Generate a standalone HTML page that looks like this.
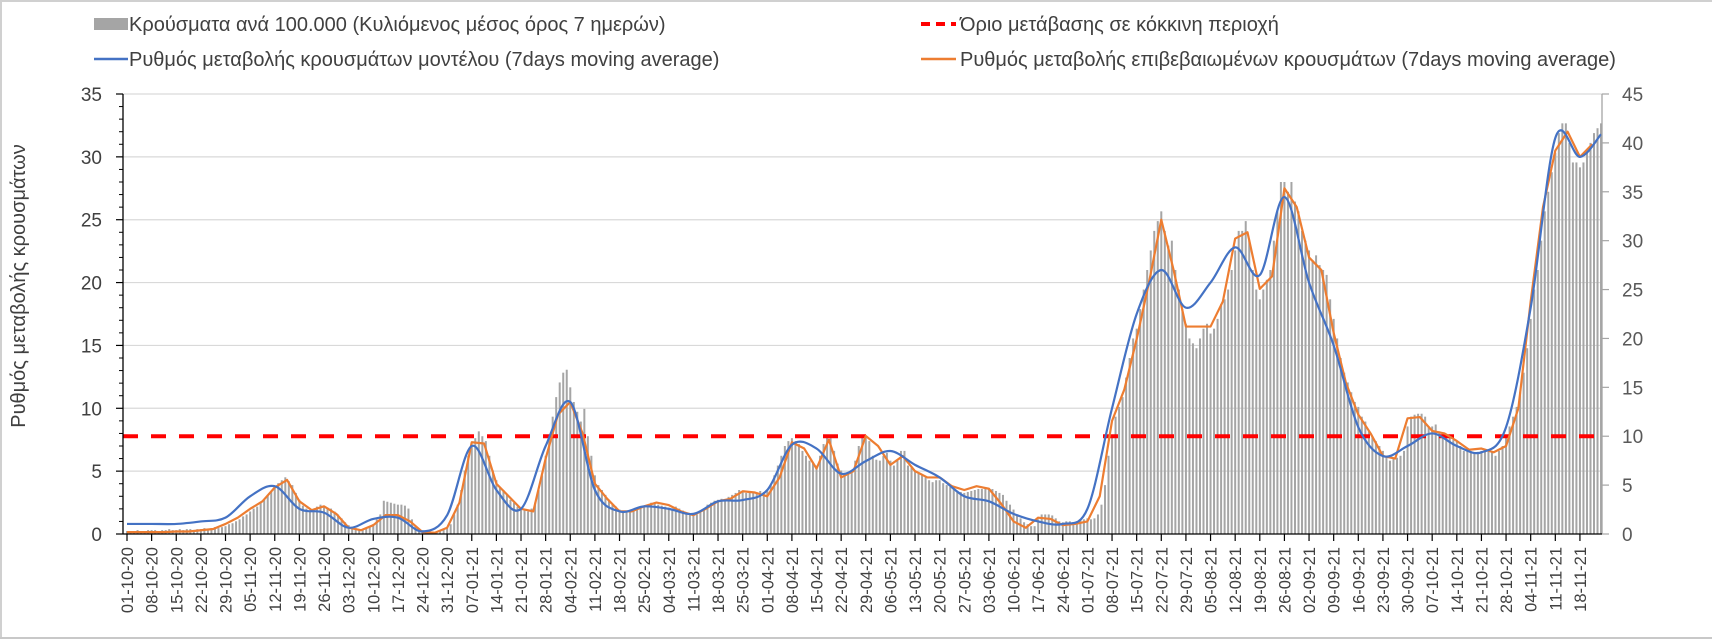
<!DOCTYPE html>
<html><head><meta charset="utf-8">
<style>
html,body{margin:0;padding:0;background:#fff;}
svg{display:block;font-family:"Liberation Sans",sans-serif;}
</style></head>
<body>
<svg id="chart" width="1712" height="641" viewBox="0 0 1712 641">
<rect x="0" y="0" width="1712" height="641" fill="#fff"/>
<line x1="0" y1="1" x2="1712" y2="1" stroke="#d0d0d0" stroke-width="2"/>
<line x1="1" y1="0" x2="1" y2="638" stroke="#d0d0d0" stroke-width="2"/>
<line x1="0" y1="638" x2="1712" y2="638" stroke="#c8c8c8" stroke-width="2"/>
<g id="grid"></g>
<g id="bars"></g>
<g id="lines"></g>
<g id="axes"></g>
<g id="legend">
  <g>
    <rect x="94" y="18" width="34" height="12" fill="#a5a5a5"/>
    <text x="129" y="31" font-size="20" fill="#404040">Κρούσματα ανά 100.000 (Κυλιόμενος μέσος όρος 7 ημερών)</text>
  </g>
  <g>
    <line x1="921" y1="24" x2="956" y2="24" stroke="#ff0000" stroke-width="4" stroke-dasharray="9,6"/>
    <text x="960" y="31" font-size="20" fill="#404040">Όριο μετάβασης σε κόκκινη περιοχή</text>
  </g>
  <g>
    <line x1="94" y1="59" x2="128" y2="59" stroke="#4472c4" stroke-width="2.5"/>
    <text x="129" y="66" font-size="20" fill="#404040">Ρυθμός μεταβολής κρουσμάτων μοντέλου (7days moving average)</text>
  </g>
  <g>
    <line x1="921" y1="59" x2="956" y2="59" stroke="#ed7d31" stroke-width="2.5"/>
    <text x="960" y="66" font-size="20" fill="#404040">Ρυθμός μεταβολής επιβεβαιωμένων κρουσμάτων (7days moving average)</text>
  </g>
</g>
<text transform="translate(25,286) rotate(-90)" text-anchor="middle" font-size="20" fill="#404040">Ρυθμός μεταβολής κρουσμάτων</text>
</svg>
<script>
// ---- data ----
const startLabels = ["01-10-20","08-10-20","15-10-20","22-10-20","29-10-20","05-11-20","12-11-20","19-11-20","26-11-20","03-12-20","10-12-20","17-12-20","24-12-20","31-12-20","07-01-21","14-01-21","21-01-21","28-01-21","04-02-21","11-02-21","18-02-21","25-02-21","04-03-21","11-03-21","18-03-21","25-03-21","01-04-21","08-04-21","15-04-21","22-04-21","29-04-21","06-05-21","13-05-21","20-05-21","27-05-21","03-06-21","10-06-21","17-06-21","24-06-21","01-07-21","08-07-21","15-07-21","22-07-21","29-07-21","05-08-21","12-08-21","19-08-21","26-08-21","02-09-21","09-09-21","16-09-21","23-09-21","30-09-21","07-10-21","14-10-21","21-10-21","28-10-21","04-11-21","11-11-21","18-11-21"];
const leftTicks = [0,5,10,15,20,25,30,35];
const rightTicks = [0,5,10,15,20,25,30,35,40,45];
const redThreshold = 10; // right axis units
// daily cases per 100k (right axis)
const cases = [
.3,.3,.3,.4,.3,.3,.4, .4,.4,.3,.4,.4,.5,.4, .4,.5,.4,.5,.5,.4,.5, .5,.6,.5,.6,.7,.6,.7,
.8,1,1.1,1.3,1.5,1.8,2.0, 2.3,2.6,2.8,3.2,3.5,4,4.3, 4.8,5.2,5.5,5.8,5.4,5.0,4.2, 3.5,2.9,2.6,2.4,2.5,2.8,3.0,
2.9,2.7,2.6,2.3,2.0,1.6,1.2, .9,.7,.6,.5,.5,.6,.7, 1.0,1.5,2.0,3.4,3.3,3.2,3.1, 3.0,3.0,2.9,2.6,1.5,.8,.5,
.4,.3,.3,.2,.2,.3,.4, .6,1.0,2.0,3.0,4.5,6.5,8.0, 9.0,9.8,10.5,10.0,9.5,8.0,6.5, 5.5,4.8,4.5,4.0,3.5,3.2,2.8,
2.6,2.4,2.3,2.6,3.2,4.5,6.0, 8,10,12,14,15.5,16.5,16.8, 15,13.5,12.5,11.5,12.8,10,8, 6,5,4.5,4,3.5,3,2.8,
2.5,2.3,2.2,2.3,2.4,2.5,2.6, 2.8,3.0,3.2,3.1,3.0,2.9,2.8, 2.7,2.6,2.8,2.6,2.4,2.2,2.0, 1.9,2.0,2.2,2.6,3.0,3.2,3.4,
3.5,3.6,3.4,3.8,4,4.2,4.5, 4.3,4.2,4.4,4.3,4.2,4.4,4.3, 4.5,5.0,6.0,7.0,8.0,9.0,9.5, 9.8,9.5,9.2,8.5,8.0,7.5,7.2,
7.0,8.0,9.2,10.0,9.8,8.5,7.2, 6.5,6.2,6.3,6.5,7.5,9,10, 10,9.5,8.0,7.6,7.5,8.0,8.3, 7.5,7.0,7.5,8.5,8.5,7.0,6.8,
6.5,6.3,6.0,5.8,5.5,5.3,5.5, 5.5,5.2,5.0,4.8,4.6,4.4,4.3, 4.2,4.3,4.4,4.5,4.6,4.6,4.7, 4.7,4.6,4.4,4.2,4.0,3.4,3.0,
2.5,2.0,1.6,1.2,1.0,.8,.8, 1.5,2.0,2.0,2.0,1.9,1.6,1.3, 1.2,1.3,1.3,1.2,1.3,1.4,1.5, 1.6,1.5,1.6,2.0,3,5,8,
10,12,13,14,16,18,20, 21,23,25,27,29,31,32, 33,31,29.5,30,27,25,23, 21.5,20,19.5,19,20,21,21.5,
20.5,21,22,23.5,24,25,27, 29,31,31,32,30,27,25, 24,25,26,27,30,33,36, 36,35,36,34,33,31,30,
29,28,28.5,27.5,27,26.5,24, 22,20,18,16.5,15.5,14.5,13.5, 13,12,11.5,10.5,10,9.5,9, 8.5,8,7.5,7.8,7.8,8,8.5,
11,12,12.2,12.3,12.3,12,11, 11,11.2,10.5,10.3,10.2,10,9.6, 9.5,9.0,8.5,8.8,8.4,8.2,8.4, 8.5,8.4,8.6,8.4,8.0,8.5,9.0,
10,11,12,13,14.5,16.5,19, 22,25,27,30,33,35,37, 39,41,42,42,40,38,38, 37.5,38,39,40,41,41.5,42
];
// model rate, sampled weekly (left axis)
const modelRate = [0.8,0.8,0.8,1.0,1.3,3.0,3.8,2.0,1.7,0.5,1.2,1.3,0.2,1.5,7.0,3.5,2.0,7.0,10.5,3.5,1.8,2.2,2.0,1.6,2.6,2.7,3.5,7.1,6.8,4.8,5.8,6.6,5.5,4.5,3.0,2.6,1.6,1.0,0.8,2.0,10.0,17.5,21.0,18.0,20.0,22.8,20.6,26.8,20.0,15.0,8.5,6.2,7.0,8.0,7.0,6.5,8.5,18.0,31.5,30.0,31.8];
// confirmed rate, sampled twice weekly (left axis)
const confirmedRate = [.15,.15,.15,.15,.2,.2,.3,.4,.8,1.3,2.0,2.6,3.7,4.3,2.6,1.9,2.2,1.6,.5,.3,.7,1.5,1.5,1.0,.15,.1,.5,2.5,7.3,7.2,4.0,3.0,2.0,1.8,6.0,9.5,10.5,8,4.0,2.8,1.8,1.8,2.2,2.5,2.3,1.8,1.5,2.0,2.6,2.8,3.4,3.3,3.0,4.5,7.3,6.8,5.2,7.5,4.5,5.0,7.8,7.0,5.5,6.2,5.0,4.5,4.5,3.8,3.5,3.8,3.6,2.4,1.0,.5,1.3,1.2,.7,.8,1.0,3.0,9.0,11.5,15.5,20,25,21,16.5,16.5,16.5,18.5,23.5,24,19.5,20.5,27.5,26,22,21,16,12,9.5,8,6.2,6.0,9.2,9.3,8.2,8.0,7.4,6.7,6.8,6.5,7.0,10,18.5,26,30.5,32,30,31];

// ---- scales ----
const X0 = 127, DX = 3.518, Y0 = 534;
const xDay = d => X0 + d*DX;
const yL = v => Y0 - v*(440/35);
const yR = v => Y0 - v*(440/45);
const NS = "http://www.w3.org/2000/svg";
function mk(tag, attrs, parent){ const e=document.createElementNS(NS,tag); for(const k in attrs) e.setAttribute(k,attrs[k]); parent.appendChild(e); return e; }

const grid = document.getElementById('grid'), bars = document.getElementById('bars'), lines = document.getElementById('lines'), axes = document.getElementById('axes');

leftTicks.forEach(t => {
  if (t>0) { const g = mk('line',{x1:123,x2:1602,y1:yL(t),y2:yL(t),stroke:'#d9d9d9','stroke-width':1.2},grid);
    }
  const tk = mk('line',{x1:116,x2:123,y1:yL(t),y2:yL(t),stroke:'#000','stroke-width':1.2},axes);
   
  if (t<35){ for(let m=1;m<5;m++){ mk('line',{x1:119,x2:123,y1:yL(t+m),y2:yL(t+m),stroke:'#000','stroke-width':1},axes); } }
  const lb = mk('text',{x:102,y:yL(t)+7,'text-anchor':'end','font-size':19,fill:'#404040'},axes); lb.textContent=t;
   
});
rightTicks.forEach(t => {
  const tk = mk('line',{x1:1602,x2:1609,y1:yR(t),y2:yR(t),stroke:'#a5a5a5','stroke-width':1.2},axes);
   
  const lb = mk('text',{x:1622,y:yR(t)+7,'font-size':19,fill:'#595959'},axes); lb.textContent=t;
   
});

cases.forEach((v,i) => {
  const b = mk('rect',{x:xDay(i)-1,y:yR(v),width:2,height:Y0-yR(v),fill:'#a5a5a5'},bars);
   
});

// axes lines
mk('line',{x1:123,x2:123,y1:yL(35),y2:Y0,stroke:'#000','stroke-width':1.3},axes);
mk('line',{x1:1602,x2:1602,y1:yR(45),y2:Y0,stroke:'#a5a5a5','stroke-width':1.3},axes);
mk('line',{x1:123,x2:1602,y1:Y0,y2:Y0,stroke:'#000','stroke-width':1.3},axes);
startLabels.forEach((s,i) => {
  const x = xDay(i*7);
  mk('line',{x1:x,x2:x,y1:Y0,y2:Y0+7,stroke:'#000','stroke-width':1.2},axes);
  const lb = mk('text',{transform:`translate(${x+6},547) rotate(-90)`,'text-anchor':'end','font-size':16.5,fill:'#404040'},axes); lb.textContent=s;
   
});

// red threshold
const red = mk('line',{x1:123,x2:1602,y1:yR(redThreshold),y2:yR(redThreshold),stroke:'#ff0000','stroke-width':4,'stroke-dasharray':'15,13'},lines);
 

// orange line
const op = confirmedRate.map((v,i)=>[xDay(i*3.5), yL(v)]);
const orange = mk('polyline',{points:op.map(p=>p.join(',')).join(' '),fill:'none',stroke:'#ed7d31','stroke-width':2.2,'stroke-linejoin':'round'},lines);
 

// blue smooth line
const bp = modelRate.map((v,i)=>[xDay(Math.min(i*7,419)), yL(v)]);
let d = `M${bp[0][0]},${bp[0][1]}`;
for(let i=0;i<bp.length-1;i++){
  const p0=bp[Math.max(0,i-1)],p1=bp[i],p2=bp[i+1],p3=bp[Math.min(bp.length-1,i+2)];
  const c1=[p1[0]+(p2[0]-p0[0])/6,p1[1]+(p2[1]-p0[1])/6], c2=[p2[0]-(p3[0]-p1[0])/6,p2[1]-(p3[1]-p1[1])/6];
  d+=` C${c1[0]},${c1[1]} ${c2[0]},${c2[1]} ${p2[0]},${p2[1]}`;
}
const blue = mk('path',{d:d,fill:'none',stroke:'#4472c4','stroke-width':2.2},lines);
 
</script>
</body></html>
